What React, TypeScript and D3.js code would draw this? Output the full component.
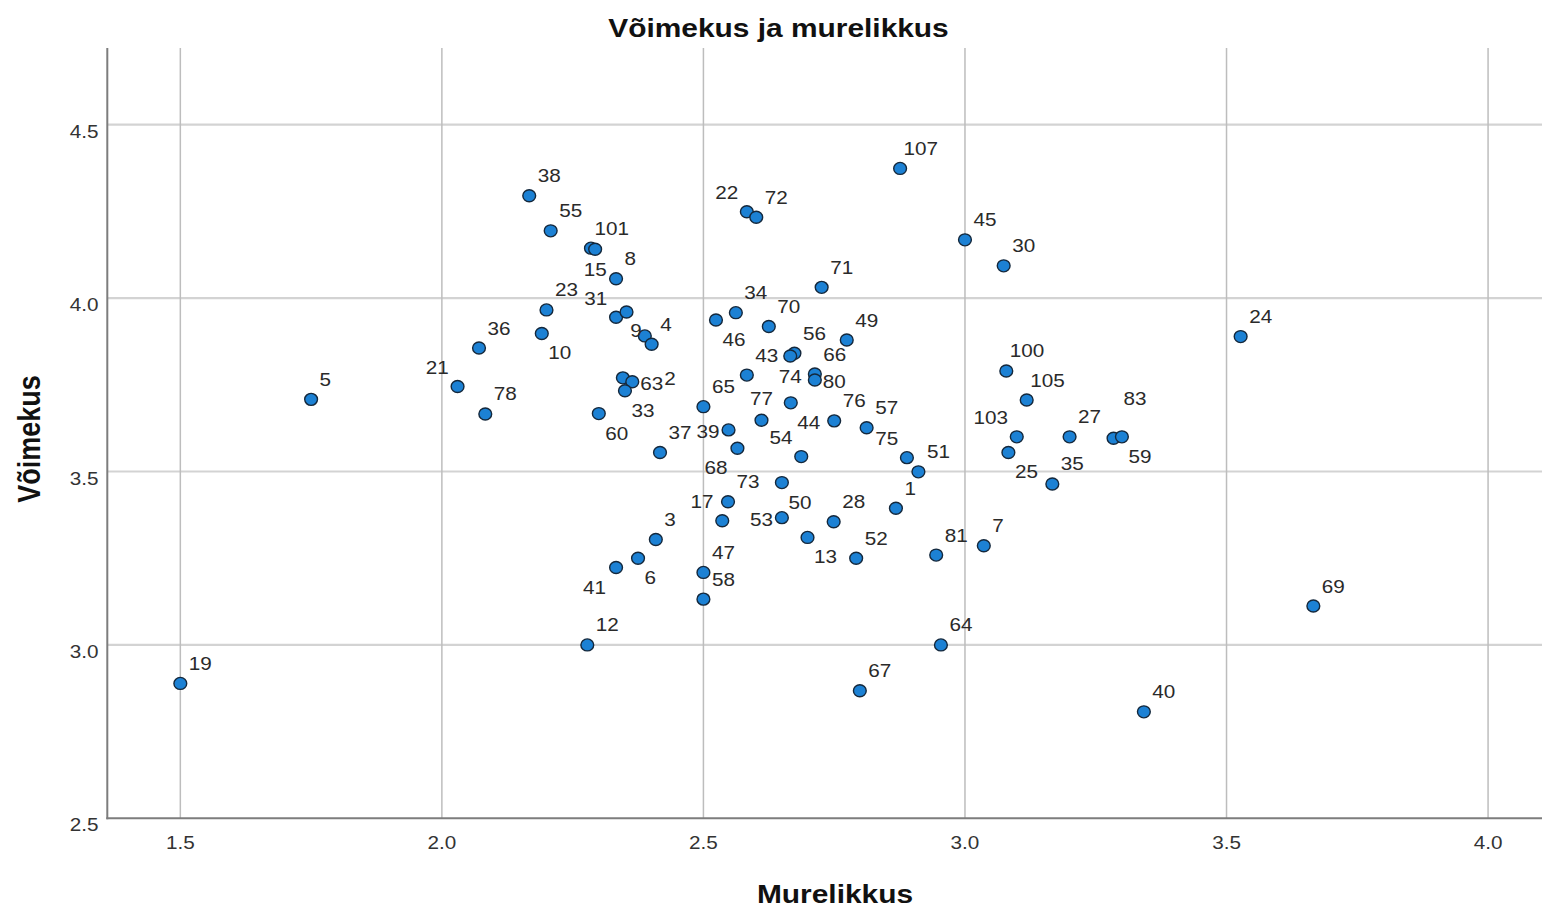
import React from "react";
import * as d3 from "d3";

// ---- data ----
const caseLabels: string[] = [
  "19", "5", "21", "36", "78", "38", "55", "101", "15", "8",
  "23", "10", "31", "", "9", "4", "2", "63", "33", "60",
  "37", "22", "72", "107", "45", "30", "71", "34", "46", "70",
  "49", "56", "74", "43", "66", "80", "65", "44", "77", "76",
  "57", "39", "68", "54", "75", "51", "50", "73", "17", "53",
  "28", "13", "52", "1", "81", "7", "3", "6", "41", "47",
  "58", "12", "64", "67", "40", "69", "24", "100", "105", "103",
  "25", "35", "27", "83", "59",
];

// Murelikkus (x)
const murelikkus: number[] = [
  1.5, 1.75, 2.03, 2.071, 2.083, 2.167, 2.208, 2.285, 2.293, 2.333,
  2.2, 2.191, 2.333, 2.353, 2.388, 2.401, 2.346, 2.364, 2.35, 2.3,
  2.417, 2.583, 2.601, 2.876, 3.0, 3.074, 2.726, 2.562, 2.524, 2.625,
  2.774, 2.674, 2.666, 2.583, 2.713, 2.713, 2.5, 2.667, 2.611, 2.75,
  2.812, 2.548, 2.565, 2.687, 2.889, 2.911, 2.65, 2.547, 2.536, 2.65,
  2.749, 2.699, 2.792, 2.868, 2.945, 3.036, 2.409, 2.375, 2.333, 2.5,
  2.5, 2.278, 2.954, 2.799, 3.342, 3.666, 3.527, 3.079, 3.118, 3.099,
  3.083, 3.167, 3.2, 3.284, 3.3,
];

// Võimekus (y)
const voimekus: number[] = [
  2.889, 3.708, 3.745, 3.856, 3.666, 4.295, 4.194, 4.144, 4.141, 4.056,
  3.966, 3.898, 3.945, 3.96, 3.891, 3.867, 3.77, 3.759, 3.733, 3.667,
  3.555, 4.249, 4.233, 4.374, 4.168, 4.093, 4.031, 3.958, 3.937, 3.918,
  3.879, 3.841, 3.833, 3.778, 3.781, 3.764, 3.687, 3.698, 3.648, 3.646,
  3.626, 3.62, 3.567, 3.543, 3.54, 3.499, 3.468, 3.413, 3.358, 3.367,
  3.355, 3.31, 3.25, 3.394, 3.259, 3.286, 3.304, 3.25, 3.223, 3.209,
  3.132, 3.0, 3.0, 2.868, 2.807, 3.112, 3.889, 3.79, 3.706, 3.6,
  3.555, 3.464, 3.6, 3.596, 3.6,
];

// label placement relative to its point (presentation only)
const labelPlacement: string[] = [
  "ur", "ur", "ul", "ur", "ur", "ur", "ur", "ur", "b", "ur",
  "ur", "lr", "ul", "ur", "li", "ur", "rr", "r", "lr", "lr",
  "ur", "ul", "ur", "ur", "ur", "ur", "ur", "ur", "lr", "ur",
  "ur", "ur", "b", "ur", "ur", "r", "ur", "lr", "u", "ur",
  "ur", "l", "ll", "ul", "ul", "ur", "lr", "ur", "ul", "l",
  "ur", "lr", "ur", "ur", "ur", "ur", "ur", "lr", "ll", "ur",
  "ur", "ur", "ur", "ur", "ur", "ur", "ur", "ur", "ur", "ul",
  "lr", "ur", "ur", "uu", "lr",
];

const xTicks: number[] = [1.5, 2.0, 2.5, 3.0, 3.5, 4.0];
const yTicks: number[] = [2.5, 3.0, 3.5, 4.0, 4.5];

const chartTitle = "Võimekus ja murelikkus";
const xTitle = "Murelikkus";
const yTitle = "Võimekus";

// ---- layout ----
const W = 1542;
const H = 910;
const left = 107.3;
const right = 1542;
const top = 48;
const bottom = 818.3;
const SX = 1.15; // horizontal stretch of the original rendering
const FONT = "'Liberation Sans', Arial, Helvetica, sans-serif";

const x = d3.scaleLinear().domain([1.3604, 4.1031]).range([left, right]);
const y = d3.scaleLinear().domain([2.5, 4.7212]).range([bottom, top]);

function placement(code: string, len: number) {
  switch (code) {
    case "ur":
      return { dx: len >= 3 ? 3.5 : 8.5, dy: -13.5, anchor: "start" };
    case "ul":
      return { dx: -8.7, dy: -12.5, anchor: "end" };
    case "lr":
      return { dx: 6.5, dy: 26, anchor: "start" };
    case "ll":
      return { dx: -10, dy: 26, anchor: "end" };
    case "r":
      return { dx: 8, dy: 8, anchor: "start" };
    case "rr":
      return { dx: 41.5, dy: 7.5, anchor: "start" };
    case "l":
      return { dx: -9, dy: 8, anchor: "end" };
    case "li":
      return { dx: -3, dy: 1, anchor: "end" };
    case "b":
      return { dx: 0, dy: 27, anchor: "middle" };
    case "u":
      return { dx: 0, dy: -15.3, anchor: "middle" };
    case "uu":
      return { dx: 10, dy: -33, anchor: "start" };
    default:
      return { dx: 8.5, dy: -13.5, anchor: "start" };
  }
}

function T(props: {
  x: number;
  y: number;
  size: number;
  anchor?: string;
  weight?: string | number;
  fill?: string;
  rotate?: number;
  children: React.ReactNode;
}) {
  const { x: tx, y: ty, size, anchor = "start", weight = "normal", fill = "#333", rotate } = props;
  const tr = `translate(${tx},${ty}) scale(${SX},1)` + (rotate ? ` rotate(${rotate})` : "");
  return (
    <text
      transform={tr}
      fontFamily={FONT}
      fontSize={size}
      fontWeight={weight}
      textAnchor={anchor}
      fill={fill}
    >
      {props.children}
    </text>
  );
}

export default function App() {
  const points = caseLabels.map((lab, i) => ({
    lab,
    px: x(murelikkus[i]),
    py: y(voimekus[i]),
    pl: placement(labelPlacement[i], lab.length),
  }));

  return (
    <svg
      width={W}
      height={H}
      viewBox={`0 0 ${W} ${H}`}
      style={{ position: "absolute", left: 0, top: 0, display: "block", background: "#fff" }}
    >
      <rect x={0} y={0} width={W} height={H} fill="#ffffff" />

      {/* title */}
      <T x={778.5} y={37} size={26} anchor="middle" weight="bold" fill="#111">
        {chartTitle}
      </T>

      {/* horizontal grid */}
      {yTicks
        .filter((t) => t > 2.5)
        .map((t) => (
          <line key={`hy${t}`} x1={left} x2={right} y1={y(t)} y2={y(t)} stroke="#d3d3d3" strokeWidth={2.2} />
        ))}
      {/* vertical grid */}
      {xTicks.map((t) => (
        <line key={`vx${t}`} x1={x(t)} x2={x(t)} y1={top} y2={bottom} stroke="#bdbdbd" strokeWidth={1.5} />
      ))}

      {/* axes */}
      <line x1={left} x2={left} y1={top} y2={bottom + 1} stroke="#7d7d7d" strokeWidth={2} />
      <line x1={left - 1} x2={right} y1={bottom} y2={bottom} stroke="#7d7d7d" strokeWidth={2} />

      {/* tick labels */}
      {xTicks.map((t) => (
        <T key={`xl${t}`} x={x(t)} y={848.5} size={18} anchor="middle" fill="#333">
          {d3.format(".1f")(t)}
        </T>
      ))}
      {yTicks.map((t) => (
        <T key={`yl${t}`} x={98.5} y={y(t) + 13} size={18} anchor="end" fill="#333">
          {d3.format(".1f")(t)}
        </T>
      ))}

      {/* axis titles */}
      <T x={835} y={903} size={26} anchor="middle" weight="bold" fill="#111">
        {xTitle}
      </T>
      <T x={40} y={439} size={27} anchor="middle" weight="bold" fill="#111" rotate={-90}>
        {yTitle}
      </T>

      {/* points */}
      {points.map((p, i) => (
        <ellipse
          key={`p${i}`}
          cx={p.px}
          cy={p.py}
          rx={6.4}
          ry={6.0}
          fill="#1c81d4"
          stroke="#14283c"
          strokeWidth={1.4}
        />
      ))}

      {/* point labels */}
      {points.map((p, i) =>
        p.lab ? (
          <T key={`l${i}`} x={p.px + p.pl.dx} y={p.py + p.pl.dy} size={18} anchor={p.pl.anchor} fill="#2a2a2a">
            {p.lab}
          </T>
        ) : null
      )}
    </svg>
  );
}
